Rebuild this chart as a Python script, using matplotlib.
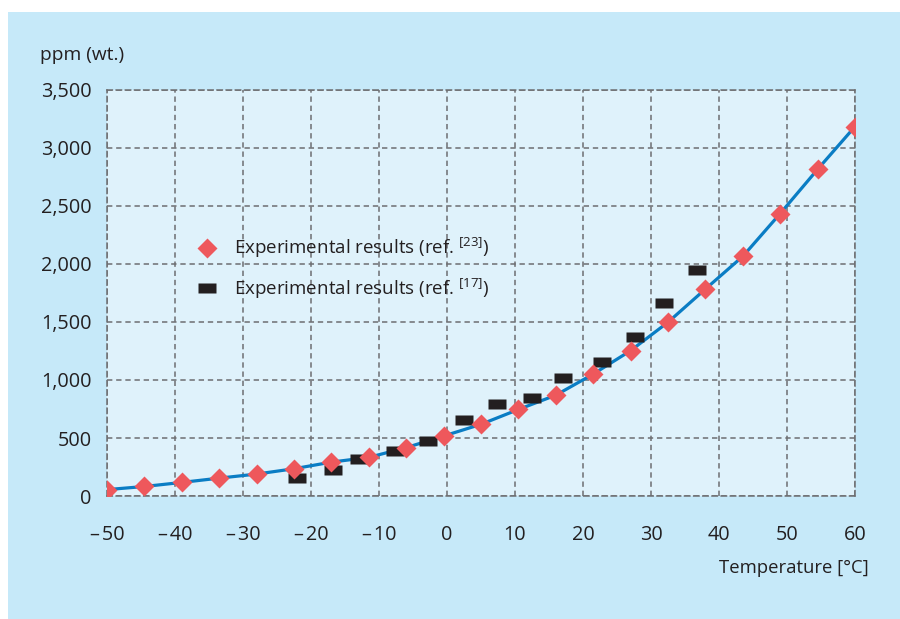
import matplotlib
matplotlib.use("Agg")
import matplotlib.pyplot as plt
from matplotlib.patches import Rectangle
from matplotlib.ticker import FuncFormatter

# data
temp_23 = [-50, -44.5, -39, -33.5, -28, -22.5, -17, -11.5, -6, -0.5, 5, 10.5,
           16, 21.5, 27, 32.5, 38, 43.5, 49, 54.5, 60]
ppm_23 = [55, 82, 117, 154, 189, 235, 292, 333, 417, 517, 618, 746,
          869, 1051, 1253, 1498, 1784, 2066, 2435, 2816, 3185]

temp_17 = [-22.1, -16.7, -13.0, -7.6, -2.75, 2.5, 7.3, 12.5, 17.1, 22.75,
           27.7, 31.95, 36.7]
ppm_17 = [157, 221, 318, 385, 476, 651, 789, 849, 1014, 1157, 1371, 1663, 1948]

x_ticks = [-50, -40, -30, -20, -10, 0, 10, 20, 30, 40, 50, 60]
y_ticks = [0, 500, 1000, 1500, 2000, 2500, 3000, 3500]

plt.rcParams['font.family'] = ['Open Sans', 'DejaVu Sans']
plt.rcParams['mathtext.fontset'] = 'custom'
plt.rcParams['mathtext.rm'] = 'Open Sans'
plt.rcParams['mathtext.it'] = 'Open Sans'

text_col = '#231f20'
grid_col = '#6d6e71'

fig = plt.figure(figsize=(9, 6.19), dpi=100, facecolor='white')
fig.patches.append(Rectangle((8 / 900, 0), 1, 1 - 12 / 619, transform=fig.transFigure,
                             facecolor='#c6e9f9', edgecolor='none', zorder=-10))
ax = fig.add_axes([107 / 900, 1 - 496 / 619, (855 - 107) / 900, (496 - 90) / 619])
ax.set_facecolor('#dff2fb')

ax.plot(temp_23, ppm_23, color='#0a7dc4', lw=2.3, zorder=3)
rect = [(-1, -0.6), (1, -0.6), (1, 0.6), (-1, 0.6), (-1, -0.6)]
ax.plot(temp_17, ppm_17, ls='none', marker=rect, ms=12.5, color=text_col,
        mec='none', zorder=4, label='Experimental results (ref. $^{[17]}$)')
ax.plot(temp_23, ppm_23, ls='none', marker='D', ms=10, color='#ee585c',
        mec='none', zorder=5, label='Experimental results (ref. $^{[23]}$)')

ax.set_xlim(-50, 60)
ax.set_ylim(0, 3500)
ax.set_xticks(x_ticks)
ax.set_yticks(y_ticks)
ax.yaxis.set_major_formatter(FuncFormatter(lambda v, p: f'{int(v):,}'))
ax.xaxis.set_major_formatter(FuncFormatter(lambda v, p: f'{int(v)}'.replace('-', '\u2013\u200a')))
ax.tick_params(length=0, labelsize=14.3, colors=text_col)
ax.tick_params(axis='x', pad=21)
ax.tick_params(axis='y', pad=11)

ax.grid(True, color=grid_col, ls=(0, (3.5, 2.5)), lw=1.1)
for s in ax.spines.values():
    s.set_color(grid_col)
    s.set_linestyle((0, (3.5, 2.5)))
    s.set_linewidth(1.1)

h, l = ax.get_legend_handles_labels()
leg = ax.legend(h[::-1], l[::-1], loc='upper left', bbox_to_anchor=(0.099, 0.682),
                frameon=False, fontsize=13.5, labelspacing=0.9,
                handlelength=1.0, handletextpad=0.9)
for t in leg.get_texts():
    t.set_color(text_col)

fig.text(40 / 900, 1 - 55 / 619, 'ppm (wt.)', fontsize=13.8, color=text_col,
         ha='left', va='center')
fig.text(869 / 900, 1 - 568 / 619, 'Temperature [°C]', fontsize=13.3, color=text_col,
         ha='right', va='center')

fig.savefig('out.png', dpi=100, facecolor=fig.get_facecolor())
